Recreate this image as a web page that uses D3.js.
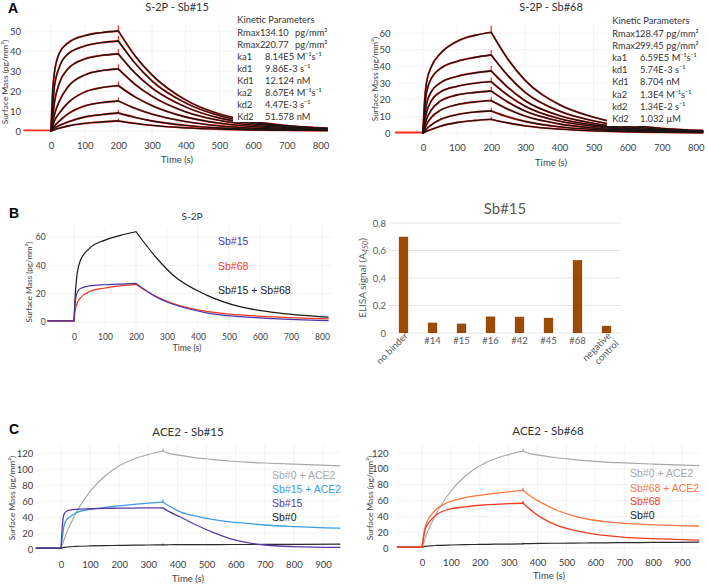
<!DOCTYPE html>
<html><head><meta charset="utf-8">
<script src="https://cdn.jsdelivr.net/npm/d3@7"></script>
<style>body{margin:0;background:#fff}svg{display:block}</style>
</head><body>
<svg id="c" width="708" height="584"></svg>
<script>
// ================= DATA =================
// Panel A – SPR kinetics (time in s, surface mass in pg/mm²)
const aXTicks = [0,100,200,300,400,500,600,700,800];
const a15YTicks = [0,10,20,30,40,50];
const a68YTicks = [0,10,20,30,40,50,60];
const aBaseT = [-80, 0];
const aAssocT = [0, 5, 10, 25, 50, 100, 150, 200];
const aDissocT = [200, 250, 300, 400, 500, 600, 700, 820];
const sb15Assoc = [
  [0,20,29,39,44,47.7,49.2,50],
  [0,12,22,32,38.5,42.5,44.2,45],
  [0,7,14,24,31,36,37.8,38.5],
  [0,4,8,15,22,28,30.2,31],
  [0,2.5,5,9,14,19.5,21.7,22.7],
  [0,1.3,2.5,5,8.5,12.5,14.2,15],
  [0,0.7,1.4,2.8,4.5,7,8.2,9],
  [0,0.3,0.6,1.4,2.5,3.8,4.5,5]
];
const sb15Dissoc = [
  [50,37.5,28,15.5,8.5,4.8,2.7,1.4],
  [45,33.8,25,14,7.7,4.3,2.5,1.3],
  [38.5,28.9,21.5,12,6.5,3.7,2.1,1.1],
  [31,23.3,17.4,9.6,5.3,2.9,1.7,0.9],
  [22.7,17,12.7,7,3.9,2.2,1.2,0.7],
  [15,11.3,8.4,4.7,2.6,1.4,0.8,0.45],
  [9,6.8,5,2.8,1.5,0.9,0.5,0.3],
  [5,3.8,2.8,1.6,0.9,0.5,0.3,0.2]
];
const sb15Spike = [2.8,2.5,2.5,2.2,2,1.8,1.5,1.2];
const sb68Assoc = [
  [0,20,30,40,47.5,55,58.5,60.4],
  [0,15,24,33,38.5,43,45.3,46.8],
  [0,10,17,25,30,34,36,37.2],
  [0,7,12,19.5,24.5,28,29.8,30.8],
  [0,4.5,8,14,19,22.8,24.3,25.2],
  [0,2.7,5,9.5,13.5,17,18.6,19.4],
  [0,1.2,2.4,5,8,11,12.5,13.2],
  [0,0.5,1,2.2,4,6.3,7.5,8.2]
];
const sb68Dissoc = [
  [60.4,44,31.5,17,9.5,5,2.8,1.5],
  [46.8,34.2,24.3,13.1,7.3,3.9,2.2,1.2],
  [37.2,27.2,19.3,10.4,5.8,3.1,1.7,0.9],
  [30.8,22.5,16,8.6,4.8,2.6,1.4,0.8],
  [25.2,18.4,13.1,7.1,4,2.1,1.2,0.6],
  [19.4,14.2,10.1,5.4,3,1.6,0.9,0.5],
  [13.2,9.6,6.9,3.7,2.1,1.1,0.6,0.3],
  [8.2,6,4.3,2.3,1.3,0.7,0.4,0.2]
];
const sb68Spike = [4,3,3,2.5,2.5,2.2,2,1.5];
const kinLabels = ['Rmax1','Rmax2','ka1','kd1','Kd1','ka2','kd2','Kd2'];
const kin15Values = ['34.10','20.77','8.14E5','9.86E-3','12.124','8.67E4','4.47E-3','51.578'];
const kin15Units = ['pg/mm²','pg/mm²','M⁻¹s⁻¹','s⁻¹','nM','M⁻¹s⁻¹','s⁻¹','nM'];
const kin68Values = ['28.47','99.45','6.59E5','5.74E-3','8.704','1.3E4','1.34E-2','1.032'];
const kin68Units = ['pg/mm²','pg/mm²','M⁻¹s⁻¹','s⁻¹','nM','M⁻¹s⁻¹','s⁻¹','µM'];

// Panel B – S-2P sandwich
const bXTicks = [0,100,200,300,400,500,600,700,800];
const bYTicks = [0,20,40,60];
const bBaseT = [-85, 0];
const bAssocT = [0, 3, 8, 19, 50, 100, 150, 200];
const bDissocT = [200, 267, 320, 428, 535, 643, 820];
const bComboAssoc = [0.8, 15, 30, 42.5, 52, 57.8, 61.2, 63.7];
const bComboDissoc = [63.7, 45, 33, 19, 10.8, 6.8, 3.5];
const bSb15Assoc = [0.8, 12, 19, 23.5, 25.5, 26.3, 26.8, 27.2];
const bSb15Dissoc = [27.2, 17.5, 12.5, 6.5, 3.8, 2.4, 1];
const bSb68Assoc = [0.8, 7, 12, 16.5, 21.5, 24, 25.5, 26.5];
const bSb68Dissoc = [26.5, 17.8, 13, 7.5, 5, 3.6, 2.2];
const bLegend = ['Sb#15', 'Sb#68', 'Sb#15 + Sb#68'];

// Panel B – ELISA competition
const elisaCats = ['no binder','#14','#15','#16','#42','#45','#68','negative control'];
const elisaVals = [0.70, 0.075, 0.068, 0.12, 0.118, 0.11, 0.53, 0.052];
const elisaYTicks = [0, 0.2, 0.4, 0.6, 0.8];

// Panel C – ACE2 competition
const cXTicks = [0,100,200,300,400,500,600,700,800,900];
const cYTicks = [0,20,40,60,80,100,120];
const cBaseT = [-85, 0];
const cAssocT = [0, 5, 10, 20, 30, 50, 100, 150, 200, 250, 300, 350];
const cDissocT = [350, 370, 410, 465, 520, 580, 640, 700, 800, 958];
const cAce2Assoc = [1, 6, 11, 21, 29, 44, 72, 91, 104, 112.5, 118, 122.5];
const cAce2Dissoc = [122.5, 119.5, 117, 114, 112, 110, 108.5, 107.5, 106, 104];
const cSb15AceAssoc = [1, 15, 28, 37, 40, 45, 49.5, 52, 54, 55.8, 57.3, 58.5];
const cSb15AceDissoc = [58.5, 54, 46.5, 41, 37, 34, 32, 30, 28, 26];
const cSb15Assoc = [1, 30, 43, 47.5, 48.5, 49.5, 50.3, 50.8, 51, 51.2, 51.4, 51.5];
const cSb15Dissoc = [51.5, 47, 40, 30, 21, 13, 8, 5, 3, 2];
const cSb0Assoc = [1, 1.5, 2, 2.5, 2.8, 3.2, 3.8, 4.2, 4.5, 4.8, 5, 5.2];
const cSb0Dissoc = [5.2, 5.3, 5.4, 5.5, 5.5, 5.6, 5.6, 5.7, 5.8, 6];
const cSb68AceAssoc = [1, 15, 25, 35, 41, 49, 59, 63.5, 66.5, 69, 71, 73];
const cSb68AceDissoc = [73, 67, 58, 48, 41, 36, 33, 31, 29.3, 27.8];
const cSb68Assoc = [1, 12, 22, 30, 35, 42, 49.5, 52, 54, 55, 56, 56.5];
const cSb68Dissoc = [56.5, 50, 39, 29, 23, 18.5, 15.5, 13.5, 11.8, 10];
const cSb0RDissoc = [5.5, 5.6, 5.8, 6, 6.2, 6.4, 6.6, 6.8, 7, 7.3];
const c15Legend = ['Sb#0 + ACE2', 'Sb#15 + ACE2', 'Sb#15', 'Sb#0'];
const c68Legend = ['Sb#0 + ACE2', 'Sb#68 + ACE2', 'Sb#68', 'Sb#0'];

// ================= DRAWING =================
const svg = d3.select('#c');
const LATO = 'Lato, "Open Sans", sans-serif';
const ARIAL = '"Liberation Sans", Arial, sans-serif';

function txt(g, x, y, s, o = {}) {
  return g.append('text').attr('x', x).attr('y', y).text(s)
    .attr('font-family', o.f || LATO).attr('font-size', o.s || 10)
    .attr('fill', o.c || '#333').attr('text-anchor', o.a || 'start')
    .attr('font-weight', o.w || 'normal');
}
function vtxt(g, x, y, s, o = {}) {
  return g.append('text').attr('transform', `translate(${x},${y}) rotate(-90)`).text(s)
    .attr('font-family', o.f || LATO).attr('font-size', o.s || 9)
    .attr('fill', o.c || '#404040').attr('text-anchor', 'middle');
}
function frame(p) {
  const g = svg.append('g');
  const grid = g.append('g').attr('stroke', '#f2f2f2').attr('stroke-width', 1);
  p.xTicks.forEach(t => grid.append('line').attr('x1', p.x(t)).attr('x2', p.x(t)).attr('y1', p.y(p.yMin)).attr('y2', p.y(p.yMax)));
  p.yTicks.forEach(v => grid.append('line').attr('y1', p.y(v)).attr('y2', p.y(v)).attr('x1', p.x(p.xMin)).attr('x2', p.x(p.xMax)));
  const ax = g.append('g').attr('transform', `translate(0,${p.y(p.yMin)})`)
    .call(d3.axisBottom(p.x).tickValues(p.xTicks).tickSize(0).tickPadding(p.xPad));
  const ay = g.append('g').attr('transform', `translate(${p.x(p.xMin)},0)`)
    .call(d3.axisLeft(p.y).tickValues(p.yTicks).tickSize(0).tickPadding(p.yPad));
  [ax, ay].forEach(a => {
    a.select('.domain').remove();
    a.selectAll('text').attr('font-family', LATO).attr('font-size', p.fs).attr('fill', '#404040');
  });
  return g;
}
function seg(g, p, times, vals, color, w) {
  g.append('path').datum(times.map((t, i) => [t, vals[i]]))
    .attr('d', d3.line().x(d => p.x(d[0])).y(d => p.y(d[1])).curve(d3.curveMonotoneX))
    .attr('fill', 'none').attr('stroke', color).attr('stroke-width', w)
    .attr('stroke-linejoin', 'round').attr('stroke-linecap', 'round');
}
function spike(g, p, t, v, h, color, w) {
  if (!h) return;
  g.append('line').attr('x1', p.x(t)).attr('x2', p.x(t)).attr('y1', p.y(v)).attr('y2', p.y(v + h))
    .attr('stroke', color).attr('stroke-width', w);
}
function curveSet(g, p, base, assocT, a, dissocT, d, sp, color, w) {
  seg(g, p, base, [a[0], a[0]], color, w);
  seg(g, p, assocT, a, color, w);
  spike(g, p, assocT[assocT.length - 1], a[a.length - 1], sp, color, w);
  seg(g, p, dissocT, d, color, w);
}

// ---------- Panel A ----------
function kinTable(x0, xv, xu, yTitle, yRow, dy, values, units, box) {
  const g = svg.append('g');
  g.append('rect').attr('x', box[0]).attr('y', box[1]).attr('width', box[2]).attr('height', box[3]).attr('fill', '#fff');
  txt(g, x0, yTitle + 3.2, 'Kinetic Parameters', { s: 9.3, c: '#333' });
  kinLabels.forEach((l, i) => {
    const y = yRow + i * dy + 3.2;
    txt(g, x0, y, l, { s: 9.3 });
    const v = txt(g, xv, y, values[i], { s: 9.3 });
    const end = xv + v.node().getComputedTextLength();
    txt(g, Math.max(xu, end + 2.5), y, units[i], { s: 9.3 });
  });
}
function panelA(p, assoc, dissoc, spikes) {
  const g = frame(p);
  seg(g, p, aBaseT, [0.3, 0.3], '#ff2a1a', 1.8);
  assoc.forEach((a, i) => {
    seg(g, p, aAssocT, a, '#ff2a1a', 1.9);
    seg(g, p, aDissocT, dissoc[i], '#ff2a1a', 1.9);
    spike(g, p, 200, a[a.length - 1], spikes[i], '#ff2a1a', 1.2);
  });
  assoc.forEach((a, i) => {
    seg(g, p, aAssocT, a, '#1d1416', 1.3);
    seg(g, p, aDissocT, dissoc[i], '#1d1416', 1.3);
  });
  return g;
}
const pA15 = { x: d3.scaleLinear().domain([0, 800]).range([51, 320.4]), y: d3.scaleLinear().domain([0, 50]).range([131, 31]),
  xTicks: aXTicks, yTicks: a15YTicks, xMin: -80, xMax: 830, yMin: -3, yMax: 53, xPad: 5, yPad: 3, fs: 9.5 };
const pA68 = { x: d3.scaleLinear().domain([0, 800]).range([423, 695.8]), y: d3.scaleLinear().domain([0, 60]).range([133, 33]),
  xTicks: aXTicks, yTicks: a68YTicks, xMin: -75, xMax: 830, yMin: -3, yMax: 65, xPad: 6, yPad: 7, fs: 9.5 };
panelA(pA15, sb15Assoc, sb15Dissoc, sb15Spike);
panelA(pA68, sb68Assoc, sb68Dissoc, sb68Spike);
kinTable(237.3, 265, 295, 20, 32.3, 12.05, kin15Values, kin15Units, [233, 12, 99, 110]);
kinTable(612.3, 640, 655.7, 21, 33.3, 12.2, kin68Values, kin68Units, [607, 13, 101, 113]);
const gA = svg.append('g');
txt(gA, 8, 13, 'A', { f: ARIAL, s: 14, w: 'bold', c: '#000' });
txt(gA, 177, 11, 'S-2P - Sb#15', { s: 11, a: 'middle' });
txt(gA, 551, 11, 'S-2P - Sb#68', { s: 11, a: 'middle' });
txt(gA, 177, 162.5, 'Time (s)', { s: 9.5, a: 'middle', c: '#404040' });
txt(gA, 551, 166, 'Time (s)', { s: 9.5, a: 'middle', c: '#404040' });
vtxt(gA, 8.3, 82, 'Surface Mass (pg/mm²)', { s: 8.4 });
vtxt(gA, 378, 79, 'Surface Mass (pg/mm²)', { s: 8.4 });

// ---------- Panel B left ----------
const pB = { x: d3.scaleLinear().domain([0, 800]).range([74, 322]), y: d3.scaleLinear().domain([0, 60]).range([322, 237]),
  xTicks: bXTicks, yTicks: bYTicks, xMin: -85, xMax: 830, yMin: -3, yMax: 68, xPad: 7.5, yPad: 2, fs: 8.5 };
const gB = frame(pB);
const bColors = ['#4a36a8', '#f5351f', '#1a1a1a'];
curveSet(gB, pB, bBaseT, bAssocT, bComboAssoc, bDissocT, bComboDissoc, 0, bColors[2], 1.2);
curveSet(gB, pB, bBaseT, bAssocT, bSb68Assoc, bDissocT, bSb68Dissoc, 0, bColors[1], 1.2);
curveSet(gB, pB, bBaseT, bAssocT, bSb15Assoc, bDissocT, bSb15Dissoc, 0, bColors[0], 1.2);
txt(gB, 9, 218, 'B', { f: ARIAL, s: 14, w: 'bold', c: '#000' });
txt(gB, 192, 219.5, 'S-2P', { s: 10, a: 'middle' });
txt(gB, 187, 351, 'Time (s)', { s: 8.5, a: 'middle', c: '#404040' });
vtxt(gB, 31.5, 282, 'Surface Mass (pg/mm²)', { s: 8 });
[244.8, 269.8, 293.8].forEach((y, i) => txt(gB, 218, y, bLegend[i], { f: ARIAL, s: 10.5, c: bColors[i] }));

// ---------- Panel B right ----------
const gE = svg.append('g');
const ex = d3.scaleBand().domain(elisaCats).range([389, 621]).paddingInner(0.68).paddingOuter(0.34);
const ey = d3.scaleLinear().domain([0, 0.8]).range([333, 223]);
elisaYTicks.forEach(v => gE.append('line').attr('x1', 389).attr('x2', 621).attr('y1', ey(v)).attr('y2', ey(v))
  .attr('stroke', '#e6e6e6').attr('stroke-width', 1));
const eAxis = gE.append('g').attr('transform', 'translate(389,0)')
  .call(d3.axisLeft(ey).tickValues(elisaYTicks).tickSize(0).tickPadding(3)
    .tickFormat(d => d === 0 ? '0' : d.toFixed(1).replace('.', ',')));
eAxis.select('.domain').remove();
eAxis.selectAll('text').attr('font-family', LATO).attr('font-size', 9.5).attr('fill', '#595959');
gE.selectAll('rect.bar').data(elisaCats).enter().append('rect').attr('class', 'bar')
  .attr('x', d => ex(d)).attr('width', ex.bandwidth())
  .attr('y', (d, i) => ey(elisaVals[i])).attr('height', (d, i) => ey(0) - ey(elisaVals[i]))
  .attr('fill', '#9c4a04');
elisaCats.forEach(c => {
  const cx = ex(c) + ex.bandwidth() / 2;
  if (c.length <= 4) {
    txt(gE, cx, 343.5, c, { s: 9.5, a: 'middle', c: '#595959' });
  } else {
    const words = c === 'negative control' ? ['negative', 'control'] : [c];
    const t = gE.append('text').attr('transform', `translate(${cx + 5},${336.5}) rotate(-45)`)
      .attr('font-family', LATO).attr('font-size', 9.5).attr('fill', '#595959').attr('text-anchor', 'end');
    words.forEach((w, i) => t.append('tspan').attr('x', 0).attr('dy', i ? '1.15em' : 0).text(w));
  }
});
txt(gE, 505, 213.5, 'Sb#15', { s: 15, a: 'middle', c: '#595959' });
const ylab = gE.append('text').attr('transform', 'translate(365.5,278) rotate(-90)')
  .attr('font-family', LATO).attr('font-size', 10).attr('fill', '#595959').attr('text-anchor', 'middle');
ylab.append('tspan').text('ELISA signal (A');
ylab.append('tspan').attr('font-size', 7).attr('dy', 2).attr('font-style', 'italic').text('450');
ylab.append('tspan').attr('dy', -2).text(')');

// ---------- Panel C ----------
const cCols = { gray: '#a8a8a8', blue: '#3d9be6', purple: '#5b3aa6', black: '#2b2b2b', orange: '#f7773f', red: '#f03c20' };
const pC15 = { x: d3.scaleLinear().domain([0, 900]).range([61, 323]), y: d3.scaleLinear().domain([0, 120]).range([549, 453]),
  xTicks: cXTicks, yTicks: cYTicks, xMin: -85, xMax: 960, yMin: -5, yMax: 130, xPad: 8.5, yPad: 3, fs: 9.5 };
const pC68 = { x: d3.scaleLinear().domain([0, 900]).range([422, 682]), y: d3.scaleLinear().domain([0, 120]).range([548, 453]),
  xTicks: cXTicks, yTicks: cYTicks, xMin: -85, xMax: 960, yMin: -5, yMax: 130, xPad: 7, yPad: 9, fs: 9.5 };
const gC1 = frame(pC15);
curveSet(gC1, pC15, cBaseT, cAssocT, cAce2Assoc, cDissocT, cAce2Dissoc, 3, cCols.gray, 1.2);
curveSet(gC1, pC15, cBaseT, cAssocT, cSb15AceAssoc, cDissocT, cSb15AceDissoc, 3.5, cCols.blue, 1.3);
curveSet(gC1, pC15, cBaseT, cAssocT, cSb0Assoc, cDissocT, cSb0Dissoc, 1.5, cCols.black, 1.2);
curveSet(gC1, pC15, cBaseT, cAssocT, cSb15Assoc, cDissocT, cSb15Dissoc, 0, cCols.purple, 1.3);
const gC2 = frame(pC68);
curveSet(gC2, pC68, cBaseT, cAssocT, cAce2Assoc, cDissocT, cAce2Dissoc, 3, cCols.gray, 1.2);
curveSet(gC2, pC68, cBaseT, cAssocT, cSb0Assoc, cDissocT, cSb0RDissoc, 1.5, cCols.black, 1.2);
curveSet(gC2, pC68, cBaseT, cAssocT, cSb68AceAssoc, cDissocT, cSb68AceDissoc, 3, cCols.orange, 1.3);
curveSet(gC2, pC68, cBaseT, cAssocT, cSb68Assoc, cDissocT, cSb68Dissoc, 3, cCols.red, 1.3);
const gC = svg.append('g');
txt(gC, 9, 434, 'C', { f: ARIAL, s: 14, w: 'bold', c: '#000' });
txt(gC, 188, 436, 'ACE2 - Sb#15', { s: 11.5, a: 'middle' });
txt(gC, 548, 435, 'ACE2 - Sb#68', { s: 11.5, a: 'middle' });
txt(gC, 188, 581.5, 'Time (s)', { s: 9.5, a: 'middle', c: '#404040' });
txt(gC, 549, 579, 'Time (s)', { s: 9.5, a: 'middle', c: '#404040' });
vtxt(gC, 15, 498, 'Surface Mass (pg/mm²)', { s: 8.4 });
vtxt(gC, 372.5, 498, 'Surface Mass (pg/mm²)', { s: 8.4 });
const c15Cols = [cCols.gray, cCols.blue, cCols.purple, '#1a1a1a'];
const c68Cols = [cCols.gray, cCols.orange, cCols.red, '#1a1a1a'];
[478.8, 492.8, 506.8, 520.8].forEach((y, i) => txt(gC, 272, y, c15Legend[i], { f: ARIAL, s: 10.5, c: c15Cols[i] }));
[476.8, 491.8, 504.8, 518.8].forEach((y, i) => txt(gC, 630, y, c68Legend[i], { f: ARIAL, s: 10.5, c: c68Cols[i] }));
</script>
</body></html>
